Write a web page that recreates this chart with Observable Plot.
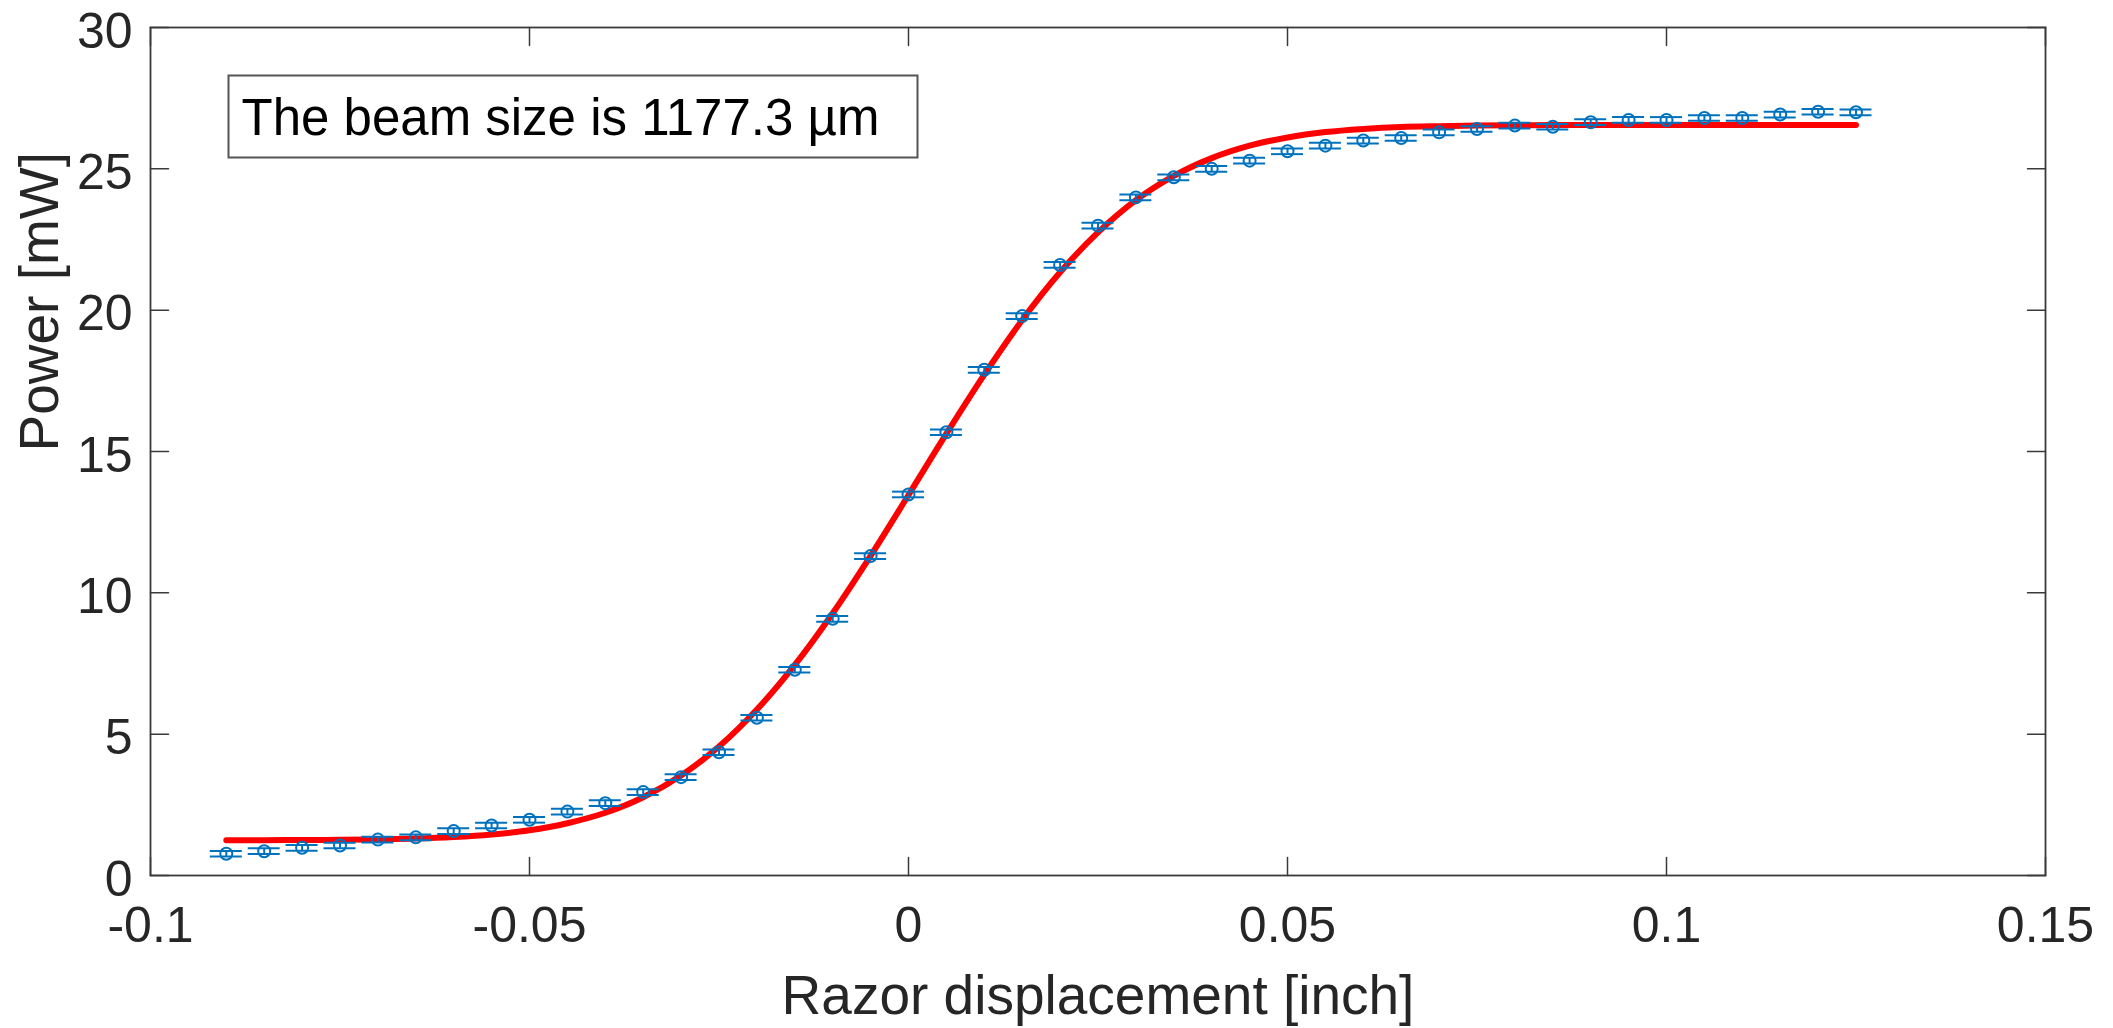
<!DOCTYPE html>
<html>
<head>
<meta charset="utf-8">
<script src="https://cdn.jsdelivr.net/npm/d3@7"></script>
<script src="https://cdn.jsdelivr.net/npm/@observablehq/plot@0.6"></script>
<style>
  html, body { margin: 0; padding: 0; background: #ffffff; }
  #chart svg { display: block; }
</style>
</head>
<body>
<div id="chart"></div>
<script>
// ---- data ----
const displacement = [
  -0.09, -0.085, -0.08, -0.075, -0.07, -0.065, -0.06, -0.055, -0.05, -0.045,
  -0.04, -0.035, -0.03, -0.025, -0.02, -0.015, -0.01, -0.005, 0, 0.005,
  0.01, 0.015, 0.02, 0.025, 0.03, 0.035, 0.04, 0.045, 0.05, 0.055,
  0.06, 0.065, 0.07, 0.075, 0.08, 0.085, 0.09, 0.095, 0.1, 0.105,
  0.11, 0.115, 0.12, 0.125
];
const power = [
  0.77, 0.86, 0.98, 1.06, 1.27, 1.35, 1.57, 1.77, 1.97, 2.26,
  2.56, 2.95, 3.48, 4.36, 5.58, 7.28, 9.08, 11.30, 13.48, 15.68,
  17.89, 19.79, 21.60, 22.99, 23.99, 24.70, 25.00, 25.29, 25.62, 25.82,
  26.00, 26.09, 26.29, 26.41, 26.53, 26.49, 26.65, 26.73, 26.73, 26.80,
  26.80, 26.92, 27.02, 27.00
];
const powerErr = [
  0.1, 0.1, 0.1, 0.1, 0.1, 0.1, 0.1, 0.1, 0.1, 0.1,
  0.1, 0.1, 0.1, 0.1, 0.1, 0.1, 0.1, 0.1, 0.1, 0.1,
  0.1, 0.1, 0.1, 0.1, 0.1, 0.1, 0.1, 0.1, 0.1, 0.1,
  0.1, 0.1, 0.1, 0.1, 0.1, 0.1, 0.1, 0.1, 0.1, 0.1,
  0.1, 0.1, 0.1, 0.1
];
// fitted (red) curve
const fitX = [
  -0.09, -0.085, -0.08, -0.075, -0.07, -0.065, -0.06, -0.055, -0.05, -0.045,
  -0.04, -0.035, -0.03, -0.025, -0.02, -0.015, -0.01, -0.005, 0, 0.005,
  0.01, 0.015, 0.02, 0.025, 0.03, 0.035, 0.04, 0.045, 0.05, 0.055,
  0.06, 0.065, 0.07, 0.075, 0.08, 0.085, 0.09, 0.095, 0.1, 0.105,
  0.11, 0.115, 0.12, 0.125
];
const fitPower = [
  1.25, 1.25, 1.256, 1.263, 1.28, 1.306, 1.36, 1.45, 1.60, 1.85,
  2.22, 2.77, 3.54, 4.56, 5.87, 7.45, 9.28, 11.31, 13.46, 15.63,
  17.72, 19.65, 21.34, 22.75, 23.89, 24.75, 25.38, 25.82, 26.11, 26.30,
  26.41, 26.48, 26.51, 26.53, 26.54, 26.55, 26.55, 26.55, 26.55, 26.55,
  26.55, 26.55, 26.55, 26.55
];
const xTicks = [-0.1, -0.05, 0, 0.05, 0.1, 0.15];
const xTickLabels = ["-0.1", "-0.05", "0", "0.05", "0.1", "0.15"];
const yTicks = [0, 5, 10, 15, 20, 25, 30];
const yTickLabels = ["0", "5", "10", "15", "20", "25", "30"];
const xLabel = "Razor displacement [inch]";
const yLabel = "Power [mW]";
const beamLabel = "The beam size is 1177.3 \u00b5m";

// ---- styling ----
const blue = "#0072BD";
const red = "#FF0000";
const axisColor = "#3a3a3a";
const textColor = "#262626";

const points = displacement.map((x, i) => ({x, y: power[i], e: powerErr[i]}));
const fit = fitX.map((x, i) => ({x, y: fitPower[i]}));

const tickShape = {draw(ctx, l) { ctx.moveTo(0, 0); ctx.lineTo(0, -l); }};
const tickOpts = {length: 18, anchor: "start", shape: tickShape, stroke: axisColor, strokeWidth: 1.5};

const chart = Plot.plot({
  width: 2113,
  height: 1028,
  marginLeft: 150,
  marginRight: 68,
  marginTop: 27,
  marginBottom: 153,
  style: {background: "#ffffff", fontFamily: "'Liberation Sans', Arial, Helvetica, sans-serif", color: textColor},
  x: {domain: [-0.1, 0.15]},
  y: {domain: [0, 30]},
  marks: [
    // red fit
    Plot.line(fit, {x: "x", y: "y", stroke: red, strokeWidth: 6, curve: "monotone-x"}),
    // error bars
    Plot.ruleX(points, {x: "x", y1: d => d.y - d.e, y2: d => d.y + d.e, stroke: blue, strokeWidth: 2}),
    Plot.ruleY(points, {y: d => d.y + d.e, x1: "x", x2: "x", insetLeft: -16, insetRight: -16, stroke: blue, strokeWidth: 2}),
    Plot.ruleY(points, {y: d => d.y - d.e, x1: "x", x2: "x", insetLeft: -16, insetRight: -16, stroke: blue, strokeWidth: 2}),
    Plot.dot(points, {x: "x", y: "y", r: 6, stroke: blue, strokeWidth: 2, fill: "none"}),
    // axes box
    Plot.frame({stroke: axisColor, strokeWidth: 1.8}),
    // inward ticks on all four sides
    Plot.vector(xTicks, {x: d => d, frameAnchor: "bottom", rotate: 0, ...tickOpts}),
    Plot.vector(xTicks, {x: d => d, frameAnchor: "top", rotate: 180, ...tickOpts}),
    Plot.vector(yTicks, {y: d => d, frameAnchor: "left", rotate: 90, ...tickOpts}),
    Plot.vector(yTicks, {y: d => d, frameAnchor: "right", rotate: -90, ...tickOpts}),
    // tick labels
    Plot.axisX(xTicks, {anchor: "bottom", tickSize: 0, tickPadding: 31, fontSize: 50, fill: textColor,
      tickFormat: d => xTickLabels[xTicks.indexOf(d)], label: null}),
    Plot.axisY(yTicks, {anchor: "left", tickSize: 0, tickPadding: 18, fontSize: 50, fill: textColor, dy: 4,
      tickFormat: d => yTickLabels[yTicks.indexOf(d)], label: null}),
    // axis titles
    Plot.text([xLabel], {frameAnchor: "bottom", dy: 138, fontSize: 55, lineAnchor: "bottom", fill: textColor}),
    Plot.text([yLabel], {frameAnchor: "left", dx: -93, rotate: -90, fontSize: 55, lineAnchor: "bottom", fill: textColor}),
    // annotation box
    Plot.frame({insetLeft: 78, insetTop: 48, insetRight: 1128, insetBottom: 718, fill: "#ffffff", stroke: "#555555", strokeWidth: 2}),
    Plot.text([beamLabel], {frameAnchor: "top-left", dx: 91, dy: 71, textAnchor: "start", lineAnchor: "top", fontSize: 51, fill: "#000000"})
  ]
});
document.getElementById("chart").appendChild(chart);
</script>
</body>
</html>
